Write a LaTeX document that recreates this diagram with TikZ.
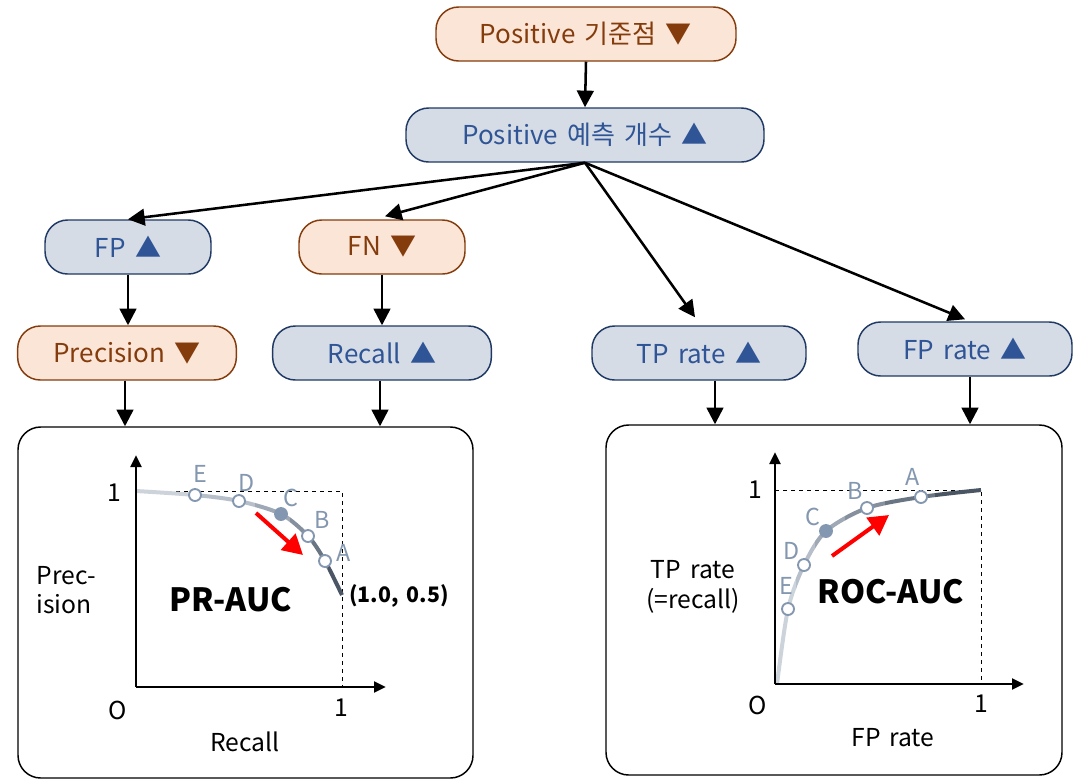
\documentclass[tikz,border=0pt]{standalone}
\usepackage{fontspec}
\setmainfont[WordSpace={1.6}]{Noto Sans CJK KR}
\usetikzlibrary{arrows.meta,calc}
\definecolor{ofill}{HTML}{FBE5D6}
\definecolor{oline}{HTML}{843C0C}
\definecolor{bfill}{HTML}{D6DCE5}
\definecolor{bline}{HTML}{1F3864}
\definecolor{btext}{HTML}{2F5597}
\definecolor{mk}{HTML}{8497B0}
\definecolor{g1}{HTML}{CDD3DB}
\definecolor{g2}{HTML}{B7BFCA}
\definecolor{g3}{HTML}{9FA9B6}
\definecolor{g4}{HTML}{858F9E}
\definecolor{g5}{HTML}{6A7584}
\definecolor{g6}{HTML}{4B5665}
\tikzset{
  pill/.style={rounded corners=17pt, line width=1.1pt, minimum height=40.5pt, inner sep=0pt, font=\fontsize{19.5}{21}\selectfont},
  orn/.style={pill, draw=oline, fill=ofill, text=oline},
  blu/.style={pill, draw=bline, fill=bfill, text=btext},
  conn/.style={line width=1.9pt, -{Triangle[length=12.5pt,width=12.5pt]}},
  axisarr/.style={line width=2.2pt, -{Triangle[length=9pt,width=8pt]}},
  redarr/.style={red, line width=3pt, -{Triangle[length=15pt,width=16pt]}},
  plotbox/.style={draw, line width=1.1pt, rounded corners=17pt, fill=white, inner sep=0pt},
  mkopen/.style={circle, draw=mk, fill=white, line width=1.4pt, minimum size=9pt, inner sep=0pt},
  mkfill/.style={circle, draw=mk, fill=mk, line width=1.4pt, minimum size=9pt, inner sep=0pt},
  lab/.style={text=mk, font=\fontsize{17.5}{19}\selectfont, inner sep=0pt},
  txt/.style={font=\fontsize{18.5}{22}\selectfont, align=center, inner sep=0pt},
  big/.style={font=\fontsize{24}{26}\selectfont\bfseries, inner sep=0pt},
  dashln/.style={dashed, line width=0.7pt}
}
\begin{document}
\begin{tikzpicture}[x=0.75pt,y=-0.75pt]
\useasboundingbox (0,0) rectangle (1092,783);
% boxes
\node[orn, minimum width=225pt] (top) at (586,34) {Positive 기준점 ▼};
\node[blu, minimum width=268.5pt] (mid) at (585,135) {Positive 예측 개수 ▲};
\node[blu, minimum width=124.5pt] (fp) at (128,247) {FP ▲};
\node[orn, minimum width=124.5pt] (fn) at (382,247) {FN ▼};
\node[orn, minimum width=164pt] (prec) at (127,353) {Precision ▼};
\node[blu, minimum width=164pt] (rec) at (382,353) {Recall ▲};
\node[blu, minimum width=160.5pt] (tpr) at (699,353) {TP rate ▲};
\node[blu, minimum width=160.5pt] (fpr) at (965,349) {FP rate ▲};
\node[plotbox, minimum width=341.25pt, minimum height=263.25pt] (prbox) at (245.5,602.5) {};
\node[plotbox, minimum width=342pt, minimum height=262.5pt] (rocbox) at (834,600) {};
% connectors
\draw[conn] (top.south) -- (mid.north);
\draw[conn] (mid.south) -- (fp.north);
\draw[conn] (mid.south) -- ($(fn.north)+(3,-3)$);
\draw[conn] (mid.south) -- ($(tpr.north)+(-4,-8)$);
\draw[conn] (mid.south) -- ($(fpr.north)+(0,-2)$);
\draw[conn] (fp.south) -- (fp.south |- prec.north);
\draw[conn] (fn.south) -- (fn.south |- rec.north);
\draw[conn] ($(prec.south)+(-2,0)$) coordinate (p1) -- (p1 |- prbox.north);
\draw[conn] ($(rec.south)+(-2,0)$) coordinate (p2) -- (p2 |- prbox.north);
\draw[conn] ($(tpr.south)+(16,0)$) coordinate (p3) -- (p3 |- rocbox.north);
\draw[conn] ($(fpr.south)+(5,0)$) coordinate (p4) -- (p4 |- rocbox.north);

% ---------- PR plot ----------
\coordinate (prO) at (136,687);
\draw[dashln] (136,491) -- (342,491) -- (342,687);
\def\prcurve{plot[smooth] coordinates {(136,491) (195,495) (239,501) (281,514) (308,536) (325,561) (342,595)}}
\foreach \xa/\xb/\c in {136/200/g1, 200/255/g2, 255/290/g3, 290/312/g4, 312/328/g5, 328/350/g6}{
  \begin{scope}
    \clip (\xa,440) rectangle (\xb,640);
    \draw[\c, line width=3pt] \prcurve;
  \end{scope}
}
\draw[axisarr] (prO) -- (136,455);
\draw[axisarr] (prO) -- (386,687);
\node[mkopen] (prE) at (195,495) {};
\node[mkopen] (prD) at (239,501) {};
\node[mkfill] (prC) at (281,514) {};
\node[mkopen] (prB) at (308,536) {};
\node[mkopen] (prA) at (325,561) {};
\node[lab] at (200,474) {E};
\node[lab] at (247,483) {D};
\node[lab] at (291,498) {C};
\node[lab] at (322,520) {B};
\node[lab] at (344,553) {A};
\draw[redarr] (256,513) -- (303,555);
\node[txt] at (114,493) {1};
\node[txt] at (118,710) {O};
\node[txt] at (341,708) {1};
\node[txt] at (245,742) {Recall};
\node[txt, align=left] at (66,590) {Prec-\\ision};
\node[big] at (231,600) {PR-AUC};
\node[font=\fontsize{16}{18}\selectfont\bfseries, inner sep=0pt] at (399,596) {(1.0, 0.5)};

% ---------- ROC plot ----------
\coordinate (rocO) at (775,684);
\draw[dashln] (775,490) -- (981,490) -- (981,684);
\def\roccurve{plot[smooth] coordinates {(777,684) (788,609) (804,565) (826,531) (867,508) (921,497) (981,490)}}
\foreach \xa/\xb/\c in {770/796/g1, 796/815/g2, 815/845/g3, 845/885/g4, 885/935/g5, 935/990/g6}{
  \begin{scope}
    \clip (\xa,460) rectangle (\xb,690);
    \draw[\c, line width=3pt] \roccurve;
  \end{scope}
}
\draw[axisarr] (rocO) -- (775,452);
\draw[axisarr] (rocO) -- (1024,684);
\node[mkopen] (rocE) at (788,609) {};
\node[mkopen] (rocD) at (804,565) {};
\node[mkfill] (rocC) at (826,531) {};
\node[mkopen] (rocB) at (867,508) {};
\node[mkopen] (rocA) at (921,497) {};
\node[lab] at (786,586) {E};
\node[lab] at (792,551) {D};
\node[lab] at (813,517) {C};
\node[lab] at (855,491) {B};
\node[lab] at (913,477) {A};
\draw[redarr] (832,556) -- (889,515);
\node[txt] at (755,490) {1};
\node[txt] at (758,705) {O};
\node[txt] at (981,704) {1};
\node[txt] at (893,738) {FP rate};
\node[txt] at (693,587) {TP rate\\(=recall)};
\node[big] at (891,592) {ROC-AUC};
\end{tikzpicture}
\end{document}
